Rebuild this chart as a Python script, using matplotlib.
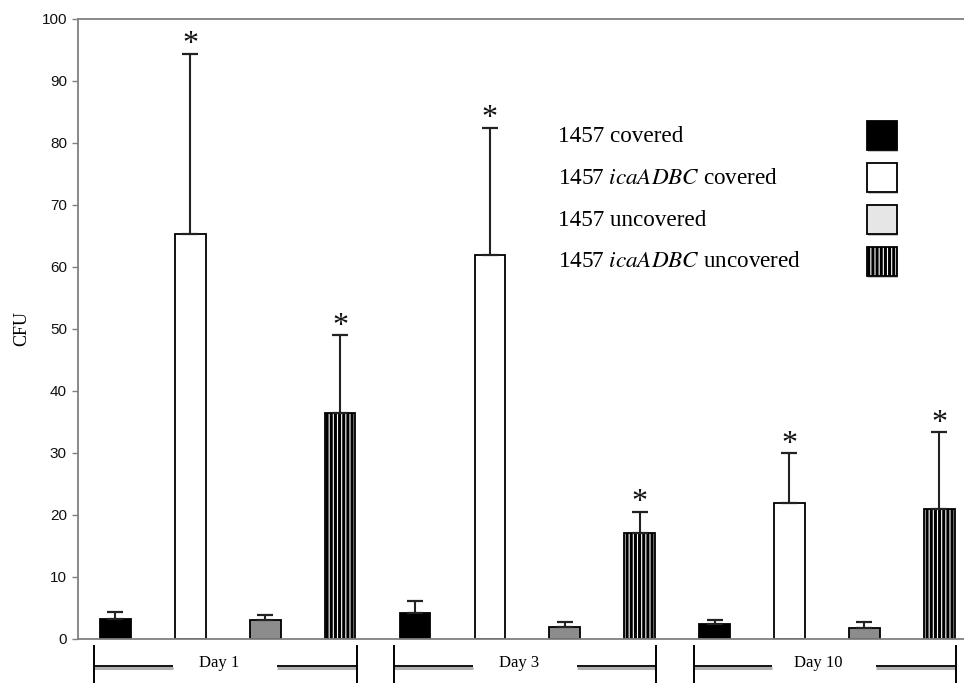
import numpy as np
import matplotlib
matplotlib.use("Agg")
import matplotlib.pyplot as plt
from matplotlib.patches import Rectangle

days = ['Day 1', 'Day 3', 'Day 10']
strains = ['1457 covered', '1457 $\\it{icaADBC}$ covered',
           '1457 uncovered', '1457 $\\it{icaADBC}$ uncovered']

# CFU means and upper error bars, one row per day, strains in order
cfu = [[3.2, 65.3, 3.0, 36.4],
       [4.2, 62.0, 1.9, 17.1],
       [2.5, 21.9, 1.7, 21.0]]
err = [[1.1, 29.1, 0.8, 12.6],
       [1.9, 20.5, 0.8, 3.4],
       [0.6, 8.1, 1.0, 12.4]]
signif = [[False, True, False, True],
          [False, True, False, True],
          [False, True, False, True]]

plt.rcParams['hatch.linewidth'] = 2.2
serif = 'Liberation Serif'

fig = plt.figure(figsize=(9.64, 6.83), dpi=100)
ax = fig.add_axes([78 / 964, 44 / 683, 886 / 964, 620 / 683])

fills = ['black', 'white', '#8c8c8c', 'white']
hatches = [None, None, None, '||||']
legend_fills = ['black', 'white', '#e6e6e6', 'white']

vals = np.array(cfu).ravel()
errs = np.array(err).ravel()
stars = np.array(signif).ravel()
x = np.arange(len(vals))
for i in range(len(vals)):
    s = i % 4
    ax.bar(x[i], vals[i], width=0.41, color=fills[s], edgecolor='black',
           linewidth=1.3, hatch=hatches[s], zorder=2)
    ax.errorbar(x[i], vals[i], yerr=[[0], [errs[i]]], fmt='none',
                ecolor='#222222', elinewidth=1.5, capsize=5.5, capthick=1.6,
                zorder=3)
    if stars[i]:
        ax.text(x[i], vals[i] + errs[i] - 0.9, '*', ha='center', va='bottom',
                fontsize=23, family=serif, color='#111111')

ax.set_xlim(-0.5, 11.33)
ax.set_ylim(0, 100)
ax.set_yticks(range(0, 101, 10))
ax.set_xticks([])
ax.tick_params(axis='y', direction='out', length=4, width=1, color='#808080',
               labelsize=11, labelcolor='#111111', pad=4)
for lab in ax.get_yticklabels():
    lab.set_family('Liberation Sans')
for side in ['left', 'top', 'bottom']:
    ax.spines[side].set_color('#808080')
    ax.spines[side].set_linewidth(1.3)
ax.spines['right'].set_visible(False)
ax.set_ylabel('CFU', family=serif, fontsize=13, labelpad=8)

# day brackets below the axis
tr = ax.get_xaxis_transform()
for g, day in enumerate(days):
    left = 4 * g - 0.28
    right = 4 * g + 3.22
    mid = (left + right) / 2
    for a, b in [(left, left + 1.05), (right - 1.06, right)]:
        ax.plot([a, b], [-0.0465, -0.0465], color='#b0b0b0', lw=2.2,
                transform=tr, clip_on=False, solid_capstyle='butt')
        ax.plot([a, b], [-0.0435, -0.0435], color='black', lw=1.3,
                transform=tr, clip_on=False, solid_capstyle='butt')
    for xv in (left, right):
        ax.plot([xv, xv], [-0.0105, -0.08], color='black', lw=1.4,
                transform=tr, clip_on=False)
    ax.text(mid - 0.08, -0.0385, day, transform=tr, ha='center', va='center',
            family=serif, fontsize=12)

# legend drawn by hand: labels on the left, swatches in a right column
row_y = [136, 178, 220, 262]
for s in range(4):
    yy = 1 - (row_y[s] - 19) / 620
    ax.text((558 - 78) / 886, yy, strains[s], transform=ax.transAxes,
            ha='left', va='center', family=serif, fontsize=16.7,
            math_fontfamily='stix')
    x0 = (867 - 78) / 886
    y0 = yy - 15 / 620 + 0.001
    ax.add_patch(Rectangle((x0 + 1 / 886, y0 - 2 / 620), 30 / 886, 29 / 620,
                           transform=ax.transAxes, facecolor='#c8c8c8',
                           edgecolor='none', clip_on=False))
    ax.add_patch(Rectangle((x0, y0), 30 / 886, 29 / 620,
                           transform=ax.transAxes,
                           facecolor=legend_fills[s], edgecolor='black',
                           linewidth=1.3, hatch=hatches[s], clip_on=False))

fig.savefig('out.png', dpi=100)
